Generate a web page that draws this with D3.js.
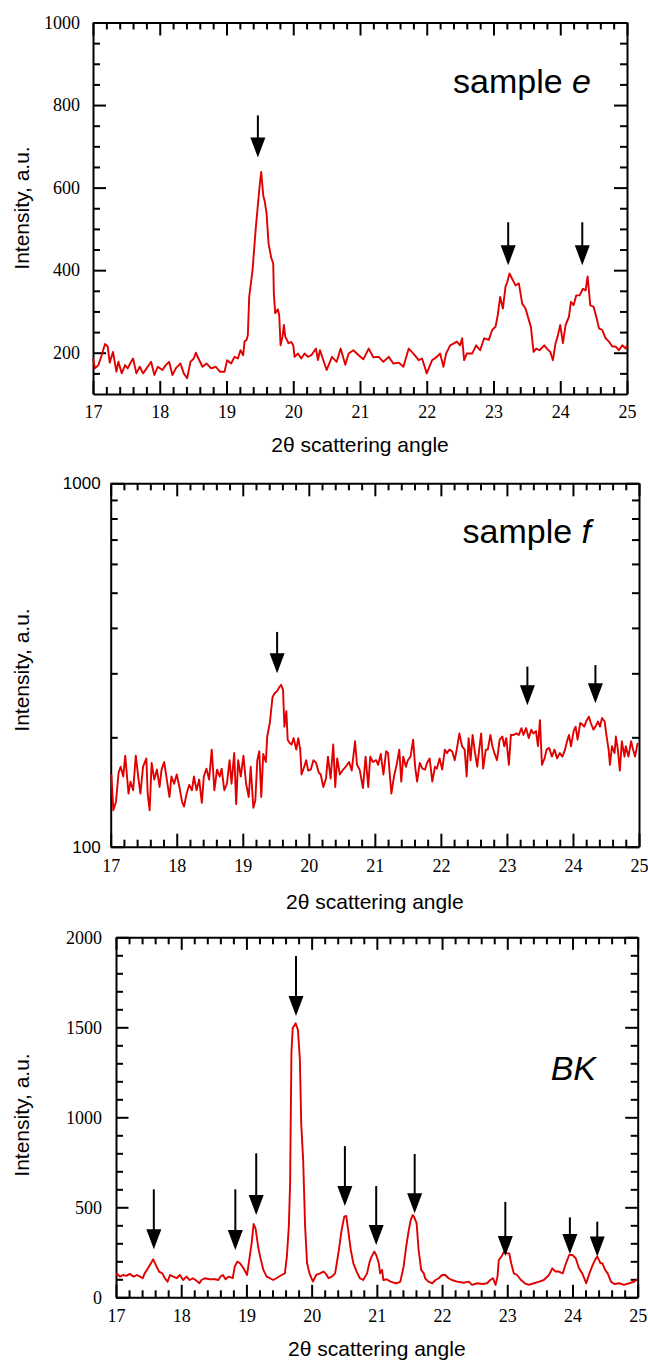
<!DOCTYPE html>
<html>
<head>
<meta charset="utf-8">
<script src="https://cdn.jsdelivr.net/npm/d3@7"></script>
<style>
body { margin: 0; background: #fff; }
svg { display: block; }
.axis path, .axis line { stroke: #000; stroke-width: 2; fill: none; }
.xy-label { font-family: "Liberation Sans", Arial, sans-serif; font-size: 21px; fill: #000; }
.panel-title { font-family: "Liberation Sans", Arial, sans-serif; font-size: 34px; fill: #000; }
</style>
</head>
<body>
<svg id="chart" width="648" height="1360"></svg>
<script>
// ---- data ----
var xTicks = [17, 18, 19, 20, 21, 22, 23, 24, 25];

// sample e
var eAngle = [17.00,17.03,17.08,17.13,17.18,17.22,17.25,17.30,17.35,17.38,17.43,17.48,17.52,17.56,17.60,17.65,17.70,17.75,17.82,17.87,17.92,17.97,18.04,18.09,18.14,18.19,18.24,18.31,18.36,18.41,18.46,18.51,18.54,18.58,18.64,18.70,18.77,18.84,18.90,18.97,19.01,19.07,19.12,19.17,19.21,19.25,19.27,19.30,19.32,19.34,19.39,19.44,19.50,19.52,19.55,19.57,19.60,19.63,19.67,19.70,19.71,19.73,19.77,19.79,19.81,19.84,19.86,19.88,19.93,19.97,20.00,20.02,20.07,20.12,20.17,20.22,20.27,20.34,20.37,20.40,20.50,20.58,20.65,20.71,20.78,20.83,20.90,20.98,21.05,21.13,21.20,21.28,21.35,21.43,21.50,21.58,21.65,21.73,21.80,21.88,21.93,22.00,22.08,22.15,22.20,22.25,22.29,22.35,22.40,22.45,22.50,22.53,22.56,22.60,22.68,22.74,22.80,22.86,22.93,22.98,23.03,23.06,23.10,23.14,23.18,23.20,23.24,23.28,23.33,23.38,23.43,23.48,23.53,23.56,23.60,23.64,23.69,23.76,23.80,23.85,23.89,23.93,23.96,24.00,24.04,24.08,24.13,24.16,24.20,24.24,24.29,24.34,24.38,24.41,24.45,24.50,24.54,24.58,24.63,24.68,24.73,24.78,24.83,24.88,24.93,24.98,25.00];
var eIntensity = [186,162,170,194,221,215,176,202,154,178,150,170,162,175,186,150,166,150,166,178,146,166,158,170,178,146,162,174,150,138,178,186,200,186,166,174,162,166,154,154,182,174,190,186,206,194,227,231,243,335,400,505,610,638,581,569,538,465,430,416,340,296,305,290,218,240,267,239,223,226,218,190,198,186,198,190,194,210,182,206,158,190,178,210,171,198,206,194,184,210,189,190,178,190,174,176,166,210,198,182,186,150,182,190,198,166,198,218,222,227,218,235,182,198,198,218,206,235,231,255,263,287,335,307,360,368,392,379,363,368,319,307,279,263,202,210,206,218,210,202,182,223,239,267,223,267,287,323,315,339,339,355,351,385,315,311,287,259,255,235,227,215,215,206,218,210,218];
var eYTicks = [200, 400, 600, 800, 1000];
// arrows: angle, tip intensity, tail intensity
var eArrows = [[19.47, 673, 775], [23.22, 412, 516], [24.33, 412, 516]];

// sample f
var fAngle = [17.01,17.04,17.08,17.12,17.15,17.19,17.22,17.27,17.30,17.34,17.38,17.42,17.45,17.49,17.54,17.56,17.59,17.62,17.66,17.70,17.74,17.77,17.81,17.85,17.89,17.92,17.96,18.00,18.04,18.08,18.11,18.15,18.19,18.23,18.26,18.30,18.34,18.38,18.41,18.45,18.49,18.53,18.57,18.61,18.65,18.68,18.72,18.76,18.80,18.83,18.87,18.90,18.93,18.97,19.01,19.05,19.09,19.12,19.16,19.19,19.22,19.25,19.28,19.31,19.35,19.37,19.41,19.45,19.48,19.52,19.56,19.58,19.61,19.63,19.66,19.68,19.71,19.74,19.77,19.81,19.84,19.87,19.89,19.93,19.96,19.99,20.03,20.07,20.11,20.15,20.18,20.22,20.26,20.29,20.33,20.37,20.40,20.43,20.47,20.52,20.56,20.61,20.65,20.70,20.73,20.77,20.82,20.86,20.90,20.93,20.97,21.02,21.05,21.09,21.13,21.17,21.20,21.25,21.29,21.33,21.37,21.40,21.43,21.47,21.50,21.54,21.58,21.61,21.64,21.68,21.72,21.76,21.79,21.83,21.87,21.91,21.94,21.98,22.02,22.06,22.09,22.13,22.17,22.21,22.24,22.28,22.32,22.36,22.39,22.42,22.45,22.48,22.51,22.55,22.58,22.61,22.64,22.68,22.71,22.75,22.78,22.81,22.85,22.89,22.93,22.96,22.99,23.03,23.06,23.10,23.14,23.18,23.22,23.25,23.29,23.33,23.37,23.40,23.44,23.47,23.50,23.53,23.57,23.60,23.64,23.68,23.72,23.76,23.80,23.84,23.88,23.91,23.94,23.97,24.01,24.04,24.07,24.11,24.14,24.17,24.20,24.24,24.27,24.31,24.34,24.38,24.41,24.44,24.48,24.51,24.54,24.56,24.59,24.63,24.65,24.68,24.71,24.74,24.78,24.80,24.84,24.88,24.91,24.94,24.98];
var fIntensity = [158,126,133,160,166,156,178,140,151,143,178,154,140,166,175,140,126,170,153,163,146,163,171,153,137,156,149,158,146,133,129,140,148,143,156,143,153,132,156,164,153,185,143,163,156,164,143,149,173,149,181,131,173,156,178,149,137,166,128,134,173,183,137,180,171,201,219,258,264,268,276,279,270,214,236,197,193,191,199,185,199,185,158,166,173,162,163,173,170,160,158,146,154,177,154,191,146,175,158,163,166,171,162,195,168,163,145,177,146,177,171,173,168,180,158,183,181,140,156,168,185,151,177,166,173,177,197,166,151,170,164,163,170,175,151,166,164,175,163,185,181,185,183,173,185,205,189,185,156,199,173,203,185,166,185,205,164,185,185,203,189,181,173,197,201,189,199,168,203,203,205,203,212,203,212,199,210,205,208,189,223,168,175,185,187,177,185,175,181,177,185,195,203,189,208,214,197,219,217,214,221,228,219,210,214,221,214,226,221,201,185,168,189,181,201,185,162,195,177,189,177,195,185,177,193];
var fYTicks = [100, 1000];
var fYMinor = [200, 300, 400, 500, 600, 700, 800, 900];
var fArrows = [[19.52, 300, 390], [23.31, 245, 313], [24.34, 248, 316]];

// BK
var bkAngle = [17.00,17.02,17.06,17.11,17.16,17.21,17.27,17.32,17.37,17.41,17.44,17.49,17.55,17.57,17.61,17.66,17.71,17.75,17.79,17.83,17.88,17.93,17.98,18.03,18.08,18.13,18.18,18.23,18.28,18.31,18.36,18.44,18.52,18.57,18.60,18.64,18.68,18.73,18.79,18.82,18.86,18.90,18.94,18.97,19.01,19.05,19.08,19.11,19.14,19.18,19.21,19.26,19.31,19.36,19.41,19.46,19.54,19.59,19.62,19.65,19.67,19.69,19.71,19.755,19.79,19.82,19.84,19.87,19.90,19.93,19.97,20.02,20.07,20.13,20.18,20.22,20.26,20.31,20.36,20.41,20.46,20.50,20.53,20.56,20.60,20.64,20.69,20.74,20.79,20.85,20.89,20.92,20.96,20.99,21.03,21.05,21.08,21.10,21.15,21.21,21.26,21.31,21.36,21.41,21.45,21.49,21.52,21.55,21.57,21.61,21.64,21.68,21.72,21.74,21.79,21.85,21.90,21.95,22.00,22.05,22.10,22.15,22.23,22.33,22.41,22.46,22.54,22.62,22.69,22.74,22.78,22.82,22.85,22.87,22.91,22.95,22.99,23.03,23.06,23.10,23.15,23.21,23.27,23.33,23.41,23.49,23.56,23.64,23.69,23.74,23.79,23.85,23.90,23.95,24.00,24.05,24.10,24.15,24.21,24.26,24.31,24.36,24.38,24.43,24.46,24.50,24.54,24.59,24.64,24.72,24.79,24.87,24.95,24.99];
var bkIntensity = [125,130,115,124,119,130,115,124,115,106,133,161,198,211,180,143,133,106,87,124,115,106,124,96,115,96,106,93,78,96,106,100,100,96,115,124,100,115,106,170,198,189,170,152,124,226,300,407,383,281,226,152,115,106,96,106,124,133,226,393,633,1357,1496,1522,1485,1318,967,763,393,189,130,87,124,133,143,130,106,115,133,244,374,448,452,374,263,189,143,106,96,133,198,226,254,235,189,133,152,96,100,87,81,78,87,170,281,374,430,457,448,411,263,152,133,106,87,78,96,106,124,124,106,96,87,81,87,69,78,74,78,96,106,69,115,207,226,254,244,244,189,133,124,96,78,69,78,87,96,124,161,143,143,133,189,235,235,217,161,133,78,133,180,217,226,189,189,152,133,87,74,78,69,78,87,100];
var bkYTicks = [0, 500, 1000, 1500, 2000];
var bkArrows = [[17.58, 267, 600], [18.83, 263, 600], [19.15, 457, 800], [19.76, 1563, 1896], [20.51, 507, 840], [20.99, 290, 618], [21.58, 467, 796], [22.97, 229, 530], [23.96, 240, 444], [24.38, 226, 420]];

var svg = d3.select("#chart");
var red = "#e00000";
var serif = '"Liberation Serif", "Times New Roman", serif';
var sans = '"Liberation Sans", Arial, sans-serif';

function drawPanel(p) {
    var g = svg.append("g");
    var x = d3.scaleLinear().domain([17, 25]).range([p.left, p.right]);
    var y = (p.log ? d3.scaleLog() : d3.scaleLinear()).domain(p.yDomain).range([p.bottom, p.top]);

    var xMinor = d3.range(17, 25.001, 0.2).filter(function(v) { return Math.abs(v - Math.round(v)) > 0.01; });

    // bottom axis, labelled
    var bx = g.append("g").attr("class", "axis").attr("transform", "translate(0," + p.bottom + ")")
        .call(d3.axisBottom(x).tickValues(xTicks).tickSize(-p.major).tickSizeOuter(0).tickPadding(p.xPad).tickFormat(d3.format("d")));
    bx.attr("font-family", serif).attr("font-size", 18);
    bx.selectAll("text").attr("fill", "#000");
    g.append("g").attr("class", "axis").attr("transform", "translate(0," + p.bottom + ")")
        .call(d3.axisBottom(x).tickValues(xMinor).tickSize(-7).tickFormat(""))
        .select(".domain").remove();

    // top axis
    g.append("g").attr("class", "axis").attr("transform", "translate(0," + p.top + ")")
        .call(d3.axisTop(x).tickValues(xTicks).tickSize(-p.major).tickSizeOuter(0).tickFormat(""));
    g.append("g").attr("class", "axis").attr("transform", "translate(0," + p.top + ")")
        .call(d3.axisTop(x).tickValues(xMinor).tickSize(-7).tickFormat(""))
        .select(".domain").remove();

    // left axis, labelled
    var ly = g.append("g").attr("class", "axis").attr("transform", "translate(" + p.left + ",0)")
        .call(d3.axisLeft(y).tickValues(p.yTicks).tickSize(-p.major).tickSizeOuter(0).tickPadding(p.yPad).tickFormat(function(d) { return d; }));
    ly.attr("font-family", p.yFont).attr("font-size", p.yFontSize);
    ly.selectAll("text").attr("fill", "#000");
    g.append("g").attr("class", "axis").attr("transform", "translate(" + p.left + ",0)")
        .call(d3.axisLeft(y).tickValues(p.yMinor).tickSize(-7).tickFormat(""))
        .select(".domain").remove();

    // right axis
    g.append("g").attr("class", "axis").attr("transform", "translate(" + p.right + ",0)")
        .call(d3.axisRight(y).tickValues(p.yTicks).tickSize(-p.major).tickSizeOuter(0).tickFormat(""));
    g.append("g").attr("class", "axis").attr("transform", "translate(" + p.right + ",0)")
        .call(d3.axisRight(y).tickValues(p.yMinor).tickSize(-7).tickFormat(""))
        .select(".domain").remove();

    // data line
    var line = d3.line()
        .x(function(d, i) { return x(p.angle[i]); })
        .y(function(d) { return y(d); });
    g.append("path")
        .datum(p.intensity)
        .attr("fill", "none")
        .attr("stroke", red)
        .attr("stroke-width", 1.9)
        .attr("stroke-linejoin", "round")
        .attr("d", line);

    // arrows
    var arrows = g.selectAll("g.arrow").data(p.arrows).enter().append("g").attr("class", "arrow");
    arrows.append("line")
        .attr("x1", function(d) { return x(d[0]); })
        .attr("x2", function(d) { return x(d[0]); })
        .attr("y1", function(d) { return y(d[2]); })
        .attr("y2", function(d) { return y(d[1]) - 18; })
        .attr("stroke", "#000")
        .attr("stroke-width", 2);
    arrows.append("path")
        .attr("fill", "#000")
        .attr("d", function(d) {
            var cx = x(d[0]), ty = y(d[1]);
            return "M" + (cx - 7.5) + "," + (ty - 20) + "L" + (cx + 7.5) + "," + (ty - 20) + "L" + cx + "," + ty + "Z";
        });

    // axis titles
    g.append("text").attr("class", "xy-label")
        .attr("x", (p.left + p.right) / 2)
        .attr("y", p.xTitleY)
        .attr("text-anchor", "middle")
        .text("2\u03b8 scattering angle");
    g.append("text").attr("class", "xy-label")
        .attr("transform", "translate(29," + p.yTitleY + ") rotate(-90)")
        .attr("text-anchor", "middle")
        .text("Intensity, a.u.");

    // panel name
    var t = g.append("text").attr("class", "panel-title")
        .attr("x", p.titleX)
        .attr("y", p.titleY)
        .attr("text-anchor", "end");
    if (p.prefix) t.append("tspan").text(p.prefix);
    t.append("tspan").attr("font-style", "italic").text(p.name);
}

drawPanel({
    left: 93, right: 627, top: 22.5, bottom: 394,
    yDomain: [100, 1000], log: false,
    yTicks: eYTicks,
    yMinor: d3.range(150, 1000, 50).filter(function(v) { return v % 200 !== 0; }),
    major: 13, xPad: 11, yPad: 13, yFont: serif, yFontSize: 18,
    angle: eAngle, intensity: eIntensity, arrows: eArrows,
    xTitleY: 452, yTitleY: 208, titleX: 591, titleY: 93, prefix: "sample ", name: "e"
});

drawPanel({
    left: 110.7, right: 639, top: 483.3, bottom: 846.7,
    yDomain: [100, 1000], log: true,
    yTicks: fYTicks, yMinor: fYMinor,
    major: 13, xPad: 13, yPad: 10, yFont: sans, yFontSize: 17,
    angle: fAngle, intensity: fIntensity, arrows: fArrows,
    xTitleY: 909, yTitleY: 670, titleX: 591, titleY: 543, prefix: "sample ", name: "f"
});

drawPanel({
    left: 116, right: 637.7, top: 937.3, bottom: 1297.3,
    yDomain: [0, 2000], log: false,
    yTicks: bkYTicks,
    yMinor: d3.range(100, 2000, 100).filter(function(v) { return v % 500 !== 0; }),
    major: 12.5, xPad: 12, yPad: 14, yFont: serif, yFontSize: 18,
    angle: bkAngle, intensity: bkIntensity, arrows: bkArrows,
    xTitleY: 1356, yTitleY: 1115, titleX: 596, titleY: 1080, prefix: "", name: "BK"
});
</script>
</body>
</html>
